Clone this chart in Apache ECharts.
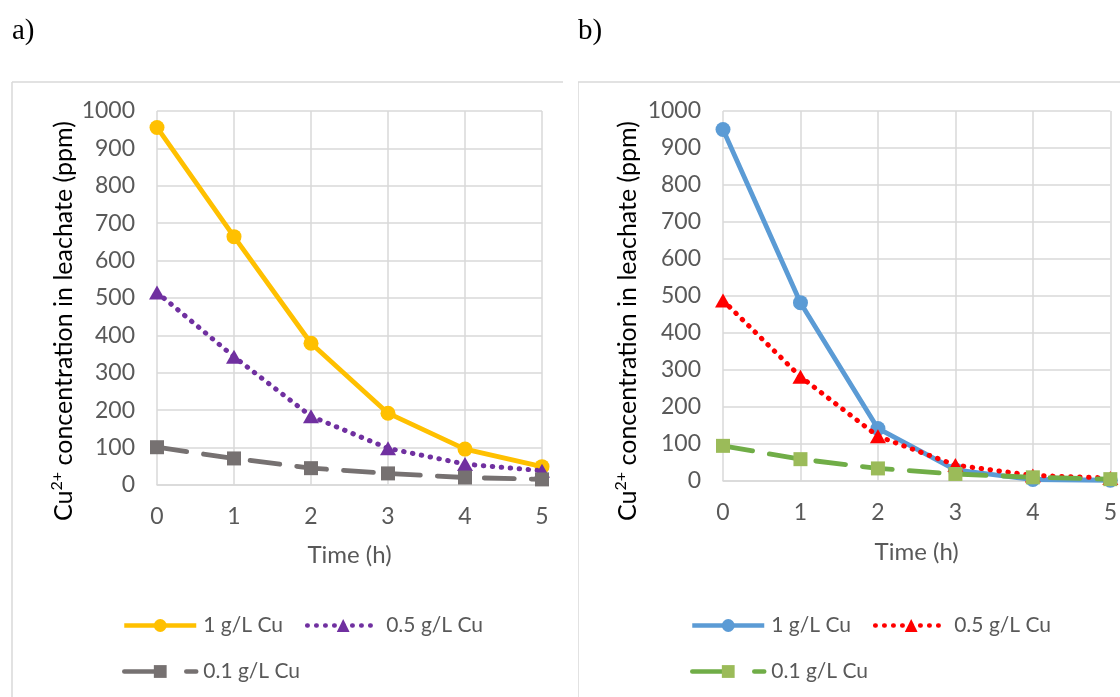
<!DOCTYPE html>
<html><head><meta charset="utf-8">
<script src="https://cdn.jsdelivr.net/npm/echarts@6/dist/echarts.min.js"></script>
<style>html,body{margin:0;padding:0;background:#fff;overflow:hidden}
#wrap{position:relative;width:1120px;height:697px}
#ca{position:absolute;left:0;top:0;width:578px;height:697px}
#cb{position:absolute;left:578px;top:0;width:542px;height:697px}</style>
</head><body><div id="wrap"><div id="ca"></div><div id="cb"></div></div>
<script>
const times = [0, 1, 2, 3, 4, 5];
const seriesNames = ['1 g/L Cu', '0.5 g/L Cu', '0.1 g/L Cu'];
const yTicks = [0, 100, 200, 300, 400, 500, 600, 700, 800, 900, 1000];
const xTitle = 'Time (h)';
const panelLabels = ['a)', 'b)'];
// Panel a
const a1 = [956, 664, 379, 192, 96, 49];
const a05 = [515, 343, 184, 98, 56, 38];
const a01 = [101, 71, 45, 31, 20, 15];
// Panel b
const b1 = [950, 482, 142, 30, 4, 2];
const b05 = [488, 282, 121, 43, 15, 8];
const b01 = [95, 59, 34, 19, 10, 5];

const FONT = 'Lato';
const TXT = '#595959';
const GRID = '#d9d9d9';

function pairs(arr) { return times.map((t, i) => [t, arr[i]]); }

function xAxis(gap) {
  return {
    type: 'value', min: 0, max: 5, interval: 1,
    name: xTitle, nameLocation: 'middle', nameGap: gap,
    nameTextStyle: {fontFamily: FONT, fontSize: 24, color: TXT},
    axisLine: {show: true, lineStyle: {color: GRID, width: 1.5}},
    axisTick: {show: false},
    axisLabel: {fontFamily: FONT, fontSize: 23, color: TXT, margin: 20},
    splitLine: {show: true, lineStyle: {color: GRID, width: 1.5}}
  };
}
function yAxis() {
  return {
    type: 'value', min: yTicks[0], max: yTicks[yTicks.length - 1], interval: 100,
    axisLine: {show: false}, axisTick: {show: false},
    axisLabel: {fontFamily: FONT, fontSize: 23, color: TXT, margin: 22, formatter: v => String(v)},
    splitLine: {show: true, lineStyle: {color: GRID, width: 1.5}}
  };
}
function solid(name, data, color) {
  return {name, type: 'line', data: pairs(data),
    symbol: 'circle', symbolSize: 15, color,
    lineStyle: {color, width: 4.8}, itemStyle: {color}, z: 3};
}
function dotted(name, data, color) {
  return {name, type: 'line', data: pairs(data),
    symbol: 'triangle', symbolSize: [16, 14], color,
    lineStyle: {color, width: 5, type: [0.5, 8.5], cap: 'round'}, itemStyle: {color}, z: 4};
}
function dashed(name, data, color, mcolor) {
  return {name, type: 'line', data: pairs(data),
    symbol: 'rect', symbolSize: 14, color: mcolor,
    lineStyle: {color, width: 4.8, type: [30, 17], cap: 'round'}, itemStyle: {color: mcolor}, z: 5};
}
function legend(data, left, top, lineType) {
  const ls = {width: 4.5};
  if (lineType) { ls.type = lineType; ls.cap = 'round'; }
  return {data, left, top, orient: 'horizontal', itemWidth: 72, itemHeight: 16, itemGap: 22,
    lineStyle: ls,
    textStyle: {fontFamily: FONT, fontSize: 21, color: TXT, padding: [0, 0, 0, 2]}};
}
function yTitle(x, y) {
  return {type: 'text', x, y, rotation: Math.PI / 2, silent: true,
    style: {text: '{a|Cu}{s|2+}{a| concentration in leachate (ppm)}', align: 'center', verticalAlign: 'middle',
      rich: {a: {fontFamily: FONT, fontSize: 25, color: TXT, lineHeight: 30},
             s: {fontFamily: FONT, fontSize: 16, color: TXT, verticalAlign: 'top', lineHeight: 30, padding: [0, 0, 12, 0]}}}};
}
function panelLabel(t, x) {
  return {type: 'text', x, y: 31, silent: true, style: {text: t, fontFamily: 'Liberation Serif', fontSize: 29, fill: '#000', verticalAlign: 'middle'}};
}

const optA = {
  animation: false, backgroundColor: '#fff',
  grid: {left: 157, right: 578 - 542, top: 111, bottom: 212},
  xAxis: xAxis(58), yAxis: yAxis(),
  legend: [legend([seriesNames[0], seriesNames[1]], 117, 610), legend([seriesNames[2]], 117, 656, [36, 26])],
  series: [solid(seriesNames[0], a1, '#FFC000'), dotted(seriesNames[1], a05, '#7030A0'), dashed(seriesNames[2], a01, '#767171', '#767171')],
  graphic: [
    {type: 'line', shape: {x1: 12, y1: 82, x2: 563, y2: 82}, style: {stroke: GRID, lineWidth: 1.5}, silent: true},
    {type: 'line', shape: {x1: 12, y1: 82, x2: 12, y2: 697}, style: {stroke: GRID, lineWidth: 1.5}, silent: true},
    panelLabel(panelLabels[0], 12), yTitle(64, 321)
  ]
};
const optB = {
  animation: false, backgroundColor: '#fff',
  grid: {left: 723 - 578, right: 9, top: 111, bottom: 216},
  xAxis: xAxis(59), yAxis: yAxis(),
  legend: [legend([seriesNames[0], seriesNames[1]], 690 - 578 - 5, 610), legend([seriesNames[2]], 690 - 578 - 5, 656, [36, 26])],
  series: [solid(seriesNames[0], b1, '#5B9BD5'), dotted(seriesNames[1], b05, '#FF0000'), dashed(seriesNames[2], b01, '#70AD47', '#9BBB59')],
  graphic: [
    {type: 'line', shape: {x1: 0, y1: 82, x2: 542, y2: 82}, style: {stroke: GRID, lineWidth: 1.5}, silent: true},
    {type: 'line', shape: {x1: 0, y1: 82, x2: 0, y2: 697}, style: {stroke: GRID, lineWidth: 1.5}, silent: true},
    panelLabel(panelLabels[1], 0), yTitle(628 - 578, 321)
  ]
};
echarts.init(document.getElementById('ca')).setOption(optA);
echarts.init(document.getElementById('cb')).setOption(optB);
</script>
</body></html>
